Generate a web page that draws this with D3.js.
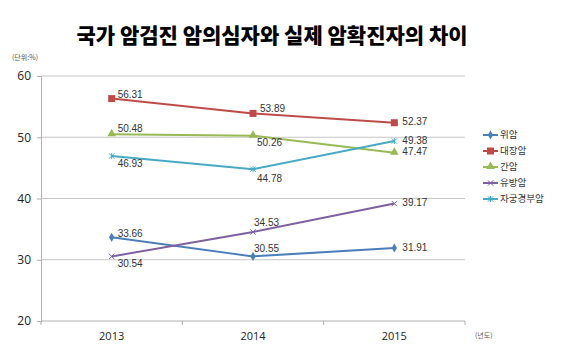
<!DOCTYPE html>
<html>
<head>
<meta charset="utf-8">
<script src="https://cdn.jsdelivr.net/npm/d3@7"></script>
<style>
  body { margin: 0; background: #fff; }
  svg { display: block; font-family: "Liberation Sans", Arial, sans-serif; }
</style>
</head>
<body>
<div id="chart"></div>
<script>
// data
var years = ["2013", "2014", "2015"];
var seriesNames = ["위암", "대장암", "간암", "유방암", "자궁경부암"];
var stomach = [33.66, 30.55, 31.91];
var colon = [56.31, 53.89, 52.37];
var liver = [50.48, 50.26, 47.47];
var breast = [30.54, 34.53, 39.17];
var cervix = [46.93, 44.78, 49.38];
var yTicks = [20, 30, 40, 50, 60];

var width = 567, height = 354;
var plot = { left: 41, right: 465, top: 76, bottom: 321 };

var svg = d3.select("#chart").append("svg")
	.attr("width", width)
	.attr("height", height);

var x = d3.scaleBand()
	.domain(years)
	.range([plot.left, plot.right]);

var y = d3.scaleLinear()
	.domain([20, 60])
	.range([plot.bottom, plot.top]);

// title
svg.append("text")
	.attr("x", 272)
	.attr("y", 43)
	.attr("text-anchor", "middle")
	.style("font-family", "'Noto Sans CJK KR', sans-serif")
	.style("font-weight", "900")
	.style("font-size", "21px")
	.attr("fill", "#000")
	.text("국가 암검진 암의심자와 실제 암확진자의 차이");

svg.append("text")
	.attr("x", 12)
	.attr("y", 60)
	.style("font-family", "'Noto Sans CJK KR', sans-serif")
	.style("font-size", "7px")
	.attr("fill", "#555")
	.text("(단위:%)");

// gridlines
svg.append("g").selectAll("line")
	.data(yTicks.slice(1))
	.enter().append("line")
	.attr("x1", plot.left)
	.attr("x2", plot.right)
	.attr("y1", function(d){ return y(d); })
	.attr("y2", function(d){ return y(d); })
	.attr("stroke", "#c6c6c6")
	.attr("stroke-width", 1);

// y axis
var yAxis = d3.axisLeft(y).tickValues(yTicks).tickSize(4).tickPadding(6);
var yAxisGroup = svg.append("g")
	.attr("transform", "translate(" + plot.left + ",0)")
	.call(yAxis);
yAxisGroup.select(".domain").attr("stroke", "#b0b0b0");
yAxisGroup.selectAll(".tick line").attr("stroke", "#b0b0b0");
yAxisGroup.selectAll(".tick text")
	.style("font-family", "'Open Sans', sans-serif")
	.style("font-size", "12px")
	.attr("fill", "#222");

// x axis (ticks on category boundaries)
svg.append("line")
	.attr("x1", plot.left).attr("x2", plot.right)
	.attr("y1", plot.bottom).attr("y2", plot.bottom)
	.attr("stroke", "#b0b0b0");
var bounds = years.map(function(d){ return x(d); }).concat([plot.right]);
svg.append("g").selectAll("line")
	.data(bounds)
	.enter().append("line")
	.attr("x1", function(d){ return d; })
	.attr("x2", function(d){ return d; })
	.attr("y1", plot.bottom)
	.attr("y2", plot.bottom + 4)
	.attr("stroke", "#b0b0b0");
svg.append("g").selectAll("text")
	.data(years)
	.enter().append("text")
	.attr("x", function(d){ return x(d) + x.bandwidth()/2; })
	.attr("y", 340)
	.attr("text-anchor", "middle")
	.style("font-family", "'Open Sans', sans-serif")
	.style("font-size", "11px")
	.attr("fill", "#222")
	.text(function(d){ return d; });

svg.append("text")
	.attr("x", 475)
	.attr("y", 338)
	.style("font-family", "'Noto Sans CJK KR', sans-serif")
	.style("font-size", "7px")
	.attr("fill", "#555")
	.text("(년도)");

// series
var series = [
	{ name: seriesNames[0], values: stomach, color: "#4a7ebb", shape: "diamond",
	  lab: [[6, -3], [1, -7], [8, 0]] },
	{ name: seriesNames[1], values: colon, color: "#be4b48", shape: "square",
	  lab: [[6, -3], [7, -4], [8, 0]] },
	{ name: seriesNames[2], values: liver, color: "#98b954", shape: "triangle",
	  lab: [[6, -5], [4, 8], [8, 0]] },
	{ name: seriesNames[3], values: breast, color: "#7d60a0", shape: "x",
	  lab: [[6, 8], [1, -9], [8, 0]] },
	{ name: seriesNames[4], values: cervix, color: "#46aac5", shape: "star",
	  lab: [[6, 8], [4, 10], [8, 0]] }
];

function cx(i){ return x(years[i]) + x.bandwidth()/2; }

function drawMarker(g, shape, color, px, py){
	if(shape == "diamond"){
		g.append("path").attr("d", d3.symbol().type(d3.symbolDiamond).size(24)())
			.attr("transform", "translate(" + px + "," + py + ")").attr("fill", color);
	} else if(shape == "square"){
		g.append("rect").attr("x", px - 3.5).attr("y", py - 3.5)
			.attr("width", 7).attr("height", 7).attr("fill", color);
	} else if(shape == "triangle"){
		g.append("path").attr("d", d3.symbol().type(d3.symbolTriangle).size(32)())
			.attr("transform", "translate(" + px + "," + (py - 0.5) + ")").attr("fill", color);
	} else if(shape == "x"){
		g.append("path").attr("d", d3.symbol().type(d3.symbolX).size(20)())
			.attr("transform", "translate(" + px + "," + py + ")")
			.attr("fill", "none").attr("stroke", color).attr("stroke-width", 1);
	} else {
		g.append("path").attr("d", d3.symbol().type(d3.symbolX).size(20)())
			.attr("transform", "translate(" + px + "," + py + ")")
			.attr("fill", "none").attr("stroke", color).attr("stroke-width", 1);
		g.append("line").attr("x1", px).attr("x2", px).attr("y1", py - 3).attr("y2", py + 3)
			.attr("stroke", color).attr("stroke-width", 1);
	}
}

var line = d3.line()
	.x(function(d, i){ return cx(i); })
	.y(function(d){ return y(d); });

var marks = svg.append("g");
series.forEach(function(s){
	marks.append("path")
		.attr("d", line(s.values))
		.attr("fill", "none")
		.attr("stroke", s.color)
		.attr("stroke-width", 2);
	s.values.forEach(function(v, i){
		drawMarker(marks, s.shape, s.color, cx(i), y(v));
	});
});

// data labels
var labels = svg.append("g");
series.forEach(function(s){
	s.values.forEach(function(v, i){
		labels.append("text")
			.attr("x", cx(i) + s.lab[i][0])
			.attr("y", y(v) + s.lab[i][1])
			.attr("dominant-baseline", "middle")
			.style("font-size", "10px")
			.attr("fill", "#333")
			.text(v.toFixed(2));
	});
});

// legend
var legend = svg.append("g");
series.forEach(function(s, i){
	var ly = 135 + i * 16;
	legend.append("line")
		.attr("x1", 483).attr("x2", 498)
		.attr("y1", ly).attr("y2", ly)
		.attr("stroke", s.color).attr("stroke-width", 2);
	drawMarker(legend, s.shape, s.color, 490.5, ly);
	legend.append("text")
		.attr("x", 500)
		.attr("y", ly)
		.attr("dominant-baseline", "middle")
		.style("font-family", "'Noto Sans CJK KR', sans-serif")
		.style("font-size", "9.5px")
		.attr("fill", "#333")
		.text(s.name);
});
</script>
</body>
</html>
